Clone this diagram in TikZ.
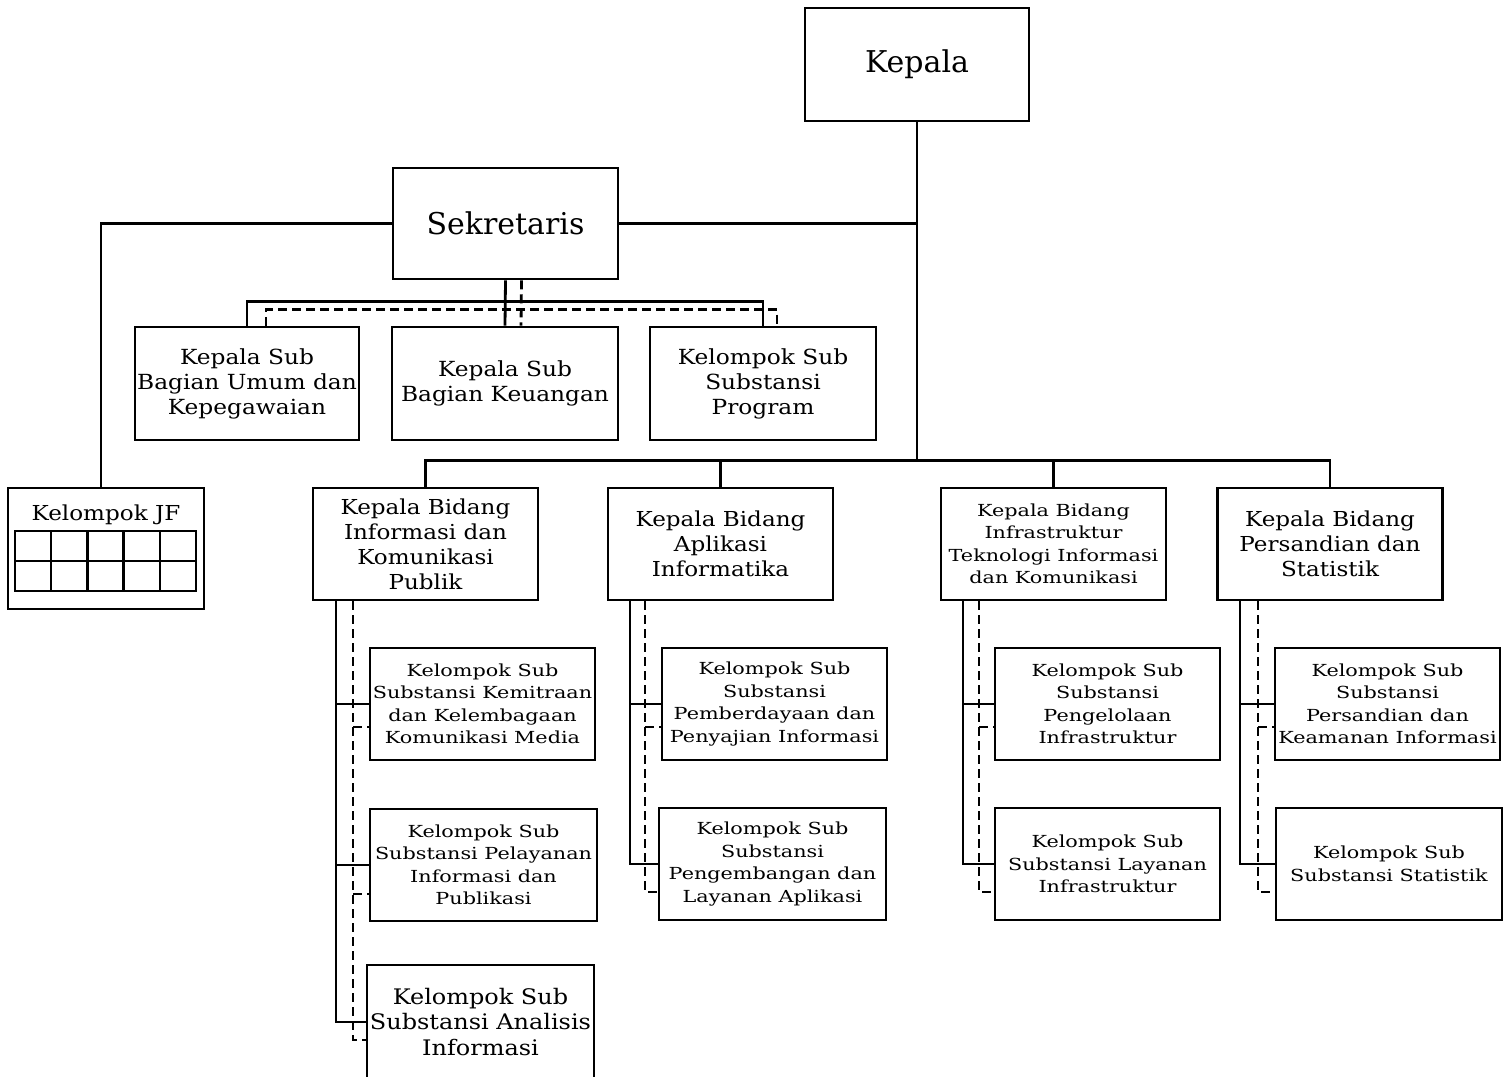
\documentclass[tikz,border=0pt]{standalone}
\usepackage{fontspec}
\setmainfont{DejaVu Serif}
\newfontfamily\wideA{DejaVu Serif}[FakeStretch=1.25]
\newfontfamily\wideB{DejaVu Serif}[FakeStretch=1.12]
\begin{document}
\begin{tikzpicture}[x=1pt,y=-1pt, line width=2.8pt,
  box/.style={draw, line width=2.8pt, inner sep=0pt, align=center, fill=white},
  ftop/.style={font=\fontsize{30}{36}\selectfont},
  fmid/.style={font=\wideB\fontsize{20.8}{25}\selectfont},
  fbid/.style={font=\wideB\fontsize{20.6}{25}\selectfont},
  fsmall/.style={font=\wideA\fontsize{16.6}{22.5}\selectfont},
  fbig/.style={font=\wideB\fontsize{21.4}{25.5}\selectfont},
  dsh/.style={dash pattern=on 9pt off 5pt},
  bw/.style={minimum width=225pt, minimum height=112pt}]
\clip (0,0) rectangle (1511,1076);
\fill[white] (0,0) rectangle (1511,1076);
% nodes
\node[box, ftop, minimum width=224pt, minimum height=113pt] (kepala) at (917,64.5) {Kepala};
\node[box, ftop, minimum width=225pt, minimum height=111pt] (sekr) at (505.5,223.5) {Sekretaris};
\node[box, fmid, minimum width=224pt, minimum height=113pt] (ksu) at (247,383.5) {Kepala Sub\\Bagian Umum dan\\Kepegawaian};
\node[box, fmid, minimum width=226pt, minimum height=113pt] (ksk) at (505,383.5) {Kepala Sub\\Bagian Keuangan};
\node[box, fmid, minimum width=226pt, minimum height=113pt] (kssp) at (763,383.5) {Kelompok Sub\\Substansi\\Program};
\node[box, minimum width=196pt, minimum height=121pt] (jf) at (106,548.5) {};
\node[fbid] (jft) at (106,515) {Kelompok JF};
\node[box, fbid, bw] (kb1) at (425.5,544) {Kepala Bidang\\Informasi dan\\Komunikasi\\Publik};
\node[box, fbid, bw] (kb2) at (720.5,544) {Kepala Bidang\\Aplikasi\\Informatika};
\node[box, fsmall, bw] (kb3) at (1053.5,544) {Kepala Bidang\\Infrastruktur\\Teknologi Informasi\\dan Komunikasi};
\node[box, fbid, bw] (kb4) at (1330,544) {Kepala Bidang\\Persandian dan\\Statistik};
\node[box, fsmall, bw] (s1a) at (482.5,704) {Kelompok Sub\\Substansi Kemitraan\\dan Kelembagaan\\Komunikasi Media};
\node[box, fsmall, bw, minimum width=227pt] (s1b) at (483.5,865) {Kelompok Sub\\Substansi Pelayanan\\Informasi dan\\Publikasi};
\node[box, fbig, minimum width=227pt, minimum height=114pt] (s1c) at (480.5,1022) {Kelompok Sub\\Substansi Analisis\\Informasi};
\node[box, fsmall, bw] (s2a) at (774.5,704) {Kelompok Sub\\Substansi\\Pemberdayaan dan\\Penyajian Informasi};
\node[box, fsmall, bw, minimum width=227pt] (s2b) at (772.5,864) {Kelompok Sub\\Substansi\\Pengembangan dan\\Layanan Aplikasi};
\node[box, fsmall, bw] (s3a) at (1107.5,704) {Kelompok Sub\\Substansi\\Pengelolaan\\Infrastruktur};
\node[box, fsmall, bw] (s3b) at (1107.5,864) {Kelompok Sub\\Substansi Layanan\\Infrastruktur};
\node[box, fsmall, bw] (s4a) at (1387.5,704) {Kelompok Sub\\Substansi\\Persandian dan\\Keamanan Informasi};
\node[box, fsmall, bw, minimum width=226pt] (s4b) at (1389,864) {Kelompok Sub\\Substansi Statistik};
% JF grid
\draw[line width=2.4pt] (15,531) rectangle (196,591);
\draw[line width=2.4pt] (15,561) -- (196,561);
\foreach \i in {1,2,3,4} {\draw[line width=2.4pt] ({15+\i*36.2},531) -- ({15+\i*36.2},591);}
% top connectors
\coordinate (hub) at (kepala.south |- kb1.north);
\coordinate (bus) at ([yshift=26pt]hub);
\draw (kepala.south) -- (bus);
\draw (sekr.east) -- (sekr.east -| kepala.south);
\draw (sekr.west) -| ([xshift=-5pt]jf.north);
\draw (kb1.north) |- (bus) -| (kb4.north);
\draw (kb2.north) -- (kb2.north |- bus);
\draw (kb3.north) -- (kb3.north |- bus);
% sekretaris subs
\draw (sekr.south) -- (ksk.north);
\draw (ksu.north) |- ([yshift=24pt]ksk.north) -| (kssp.north);
\draw[dsh] ([xshift=16pt]sekr.south) -- ([xshift=16pt]ksk.north);
\draw[dsh] ([xshift=19pt]ksu.north) |- ([yshift=16pt,xshift=16pt]ksk.north) -| ([xshift=14pt]kssp.north);
% column 1
\draw ([xshift=-89.5pt]kb1.south) |- (s1c.west);
\draw ([xshift=-89.5pt]kb1.south |- s1a.west) -- (s1a.west);
\draw ([xshift=-89.5pt]kb1.south |- s1b.west) -- (s1b.west);
\draw[dsh] ([xshift=-72.5pt]kb1.south) |- ([yshift=-18pt]s1c.west);
\draw[dsh] ([xshift=-72.5pt,yshift=-23pt]kb1.south |- s1a.west) -- ([yshift=-23pt]s1a.west);
\draw[dsh] ([xshift=-72.5pt,yshift=-29pt]kb1.south |- s1b.west) -- ([yshift=-29pt]s1b.west);
% columns 2-4
\foreach \kb/\sa/\sb/\so/\do in {kb2/s2a/s2b/90.5/75.5, kb3/s3a/s3b/90.5/74.5, kb4/s4a/s4b/90/72} {
  \draw ([xshift=-\so pt]\kb.south) |- (\sb.west);
  \draw ([xshift=-\so pt]\kb.south |- \sa.west) -- (\sa.west);
  \draw[dsh] ([xshift=-\do pt]\kb.south) |- ([yshift=-28pt]\sb.west);
  \draw[dsh] ([xshift=-\do pt,yshift=-23pt]\kb.south |- \sa.west) -- ([yshift=-23pt]\sa.west);
}
\end{tikzpicture}
\end{document}
